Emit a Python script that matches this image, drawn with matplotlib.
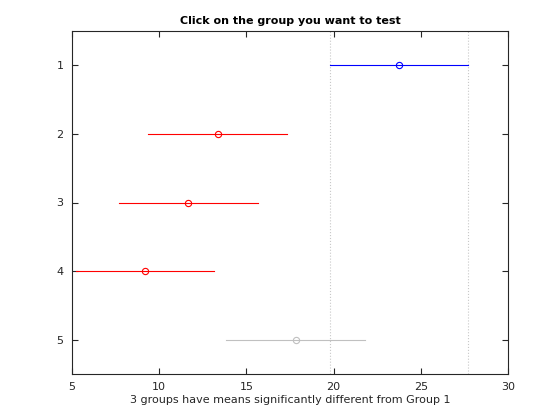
import matplotlib
matplotlib.use("Agg")
import matplotlib.pyplot as plt

groups = [1, 2, 3, 4, 5]
means = [23.75, 13.35, 11.67, 9.20, 17.83]
lower = [19.80, 9.36, 7.71, 5.24, 13.83]
upper = [27.72, 17.31, 15.65, 13.14, 21.80]
colors = ["#0000ff", "#ff0000", "#ff0000", "#ff0000", "#c0c0c0"]
xticks = [5, 10, 15, 20, 25, 30]

fig = plt.figure(figsize=(5.6, 4.2), dpi=100)
ax = fig.add_axes([72 / 560, 1 - 374 / 420, 436 / 560, 343 / 420])

# comparison interval of the selected group
ax.axvline(lower[0], color="#c8c8c8", linestyle=":", linewidth=0.8, zorder=1)
ax.axvline(upper[0], color="#c8c8c8", linestyle=":", linewidth=0.8, zorder=1)

for g, m, lo, hi, c in zip(groups, means, lower, upper, colors):
    ax.plot([lo, hi], [g, g], color=c, linewidth=0.8, zorder=2)
    ax.plot([m], [g], marker="o", markersize=4.5, markerfacecolor="none",
            markeredgecolor=c, markeredgewidth=0.8, zorder=3)

ax.set_xlim(5, 30)
ax.set_ylim(5.5, 0.5)
ax.set_xticks(xticks)
ax.set_yticks(groups)
ax.set_yticklabels([str(g) for g in groups])

for s in ax.spines.values():
    s.set_color("#262626")
    s.set_linewidth(0.8)
ax.tick_params(direction="in", length=4, width=0.8, color="#262626",
               labelcolor="#262626", labelsize=8, top=True, right=True, pad=6)

ax.set_title("Click on the group you want to test", fontsize=8,
             fontweight="bold", pad=5)
ax.set_xlabel("3 groups have means significantly different from Group 1",
              fontsize=8, color="#262626", labelpad=2)

fig.savefig("out.png", dpi=100)
